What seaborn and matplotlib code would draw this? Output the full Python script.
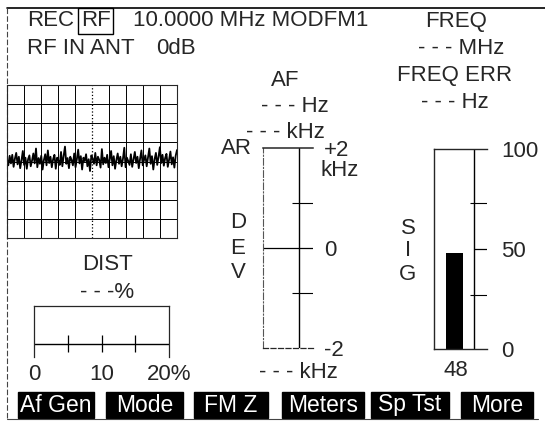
import numpy as np
import pandas as pd
import matplotlib.pyplot as plt
from matplotlib.patches import Rectangle
import seaborn as sns

sns.set_style('white')
plt.rcParams['font.family'] = ['Liberation Sans', 'DejaVu Sans']
plt.rcParams['font.size'] = 16

# scope trace, in divisions from the centre line
trace = [0.10, -0.20, 0.30, -0.10, 0.35, -0.28, 0.15, 0.45, -0.15, 0.25,
         -0.35, 0.05, 0.55, -0.18, 0.20, -0.38, 0.12, 0.32, -0.25, 0.05,
         0.42, -0.10, 0.68, -0.30, 0.18, -0.12, 0.30, -0.42, 0.08, 0.38,
         -0.20, 0.58, -0.08, 0.25, -0.30, 0.12, 0.35, -0.38, 0.20, 0.05,
         -0.18, 0.50, -0.25, 0.30, 0.78, -0.12, 0.18, -0.35, 0.25, 0.08,
         -0.20, 0.42, -0.30, 0.12, 0.62, -0.10, 0.28, -0.42, 0.20, 0.02,
         0.38, -0.25, 0.12, -0.50, 0.32, 0.15, -0.12, 0.45, -0.20, 0.25,
         0.08, -0.32, 0.65, -0.15, 0.20, -0.08, 0.35, -0.30, 0.12, 0.55,
         -0.20, 0.28, -0.38, 0.08, 0.42, -0.12, 0.25, -0.25, 0.15, 0.72,
         -0.30, 0.20, 0.02, -0.18, 0.38, -0.28, 0.12, 0.50, -0.08, 0.25,
         -0.35, 0.15, 0.58, -0.20, 0.08, 0.32, -0.25, 0.20, 0.68, -0.12,
         0.28, -0.42, 0.12, 0.45, -0.18, 0.25, 0.75, -0.08, 0.35, -0.22,
         0.18, 0.40, -0.28, 0.10, 0.52, -0.15, 0.22, -0.32, 0.30, 0.60]

dist_ticks = [0, 10, 20]
dist_labels = ['0', '10', '20%']
dist_minor = [5, 10, 15]

dev_ticks = [-2, 0, 2]
dev_labels = ['-2', '0', '+2']
dev_minor = [-0.9, 0.9]

sig_value = 48
sig_ticks = [0, 50, 100]
sig_minor = [27, 73]

softkeys = ['Af Gen', 'Mode', 'FM Z', 'Meters', 'Sp Tst', 'More']

W, H = 545, 421
fig = plt.figure(figsize=(W / 100, H / 100), dpi=100)


def px_axes(x0, y0, x1, y1):
    a = fig.add_axes([x0 / W, 1 - y1 / H, (x1 - x0) / W, (y1 - y0) / H])
    a.patch.set_alpha(0)
    return a


bg = fig.add_axes([0, 0, 1, 1])
bg.set_xlim(0, W)
bg.set_ylim(H, 0)
bg.axis('off')

# outer frame
bg.plot([7, 545], [8, 8], color='black', lw=1.2)
bg.plot([7, 7], [8, 419], color='#444444', lw=0.8, ls=(0, (5, 2)))
bg.plot([7, 538], [419, 419], color='#444444', lw=0.8)

# header
bg.text(27, 21, 'REC', va='center')
bg.text(81, 21, 'RF', va='center',
        bbox=dict(boxstyle='square,pad=0.12', fc='none', ec='black', lw=1))
bg.text(133, 21, '10.0000 MHz MODFM1', va='center')
bg.text(27, 48, 'RF IN ANT', va='center')
bg.text(156, 48, '0dB', va='center')
bg.text(456, 21, 'FREQ', ha='center', va='center')
bg.text(461, 48, '- - - MHz', ha='center', va='center')
bg.text(455, 76, 'FREQ ERR', ha='center', va='center')
bg.text(455, 103, '- - - Hz', ha='center', va='center')

# AF / DEV texts
bg.text(285, 80, 'AF', ha='center', va='center')
bg.text(295, 107, '- - - Hz', ha='center', va='center')
bg.text(285, 132, '- - - kHz', ha='center', va='center')
bg.text(236, 148, 'AR', ha='center', va='center')
bg.text(340, 170, 'kHz', ha='center', va='center')
for ch, yy in zip('DEV', [223, 249, 273]):
    bg.text(238, yy, ch, ha='center', va='center')
bg.text(298, 373, '- - - kHz', ha='center', va='center')

# SIG texts
for ch, yy in zip('SIG', [229, 251, 275]):
    bg.text(408, yy, ch, ha='center', va='center')
bg.text(456, 370, str(sig_value), ha='center', va='center')

# DIST texts
bg.text(107, 265, 'DIST', ha='center', va='center')
bg.text(107, 292, '- - -%', ha='center', va='center')

# scope
sc = px_axes(7, 85, 177, 238)
df = pd.DataFrame({'t': np.linspace(0, 10, len(trace)), 'v': trace})
sns.lineplot(data=df, x='t', y='v', color='black', lw=1.3, ax=sc)
sc.set_xlim(0, 10)
sc.set_ylim(-4, 4)
for i in range(1, 10):
    sc.axvline(i, color='black', lw=0.9 if i == 5 else 0.7,
               ls=':' if i == 5 else '-', zorder=1)
for j in range(-3, 4):
    sc.axhline(j, color='black', lw=0.7, zorder=1)
sc.set_xticks([])
sc.set_yticks([])
sc.set_xlabel('')
sc.set_ylabel('')
for s in sc.spines.values():
    s.set_linewidth(0.8)

# DIST bar (pixel-like vertical scale, 0 at bottom)
ds = px_axes(34, 306, 169, 357)
ds.set_xlim(0, 20)
ds.set_ylim(0, 51)
ds.axhline(13, color='black', lw=1)
ds.vlines(dist_minor, 5, 22, color='black', lw=0.9)
ds.spines['bottom'].set_visible(False)
for s in ['left', 'right', 'top']:
    ds.spines[s].set_linewidth(0.9)
ds.set_yticks([])
ds.set_xticks(dist_ticks, dist_labels)
ds.tick_params(axis='x', length=0, pad=5)

# DEV meter
dv = px_axes(263, 148, 313, 348)
dv.set_xlim(0, 1)
dv.set_ylim(-2, 2)
dv.axvline(0.72, color='black', lw=1)
dv.axhline(0, color='black', lw=0.9)
dv.hlines(dev_minor, 0.58, 1, color='black', lw=0.8)
dv.spines['right'].set_visible(False)
dv.spines['top'].set_linewidth(1.1)
dv.spines['left'].set_linestyle((0, (6, 2, 1, 2)))
dv.spines['left'].set_linewidth(0.8)
dv.spines['left'].set_color('#555555')
dv.spines['bottom'].set_linestyle((0, (4, 2)))
dv.spines['bottom'].set_linewidth(0.9)
dv.set_xticks([])
dv.yaxis.tick_right()
dv.set_yticks(dev_ticks, dev_labels)
dv.tick_params(axis='y', length=0, pad=8)

# SIG meter
sg = px_axes(434, 149, 487, 349)
sns.barplot(x=['SIG'], y=[sig_value], color='black', width=0.32,
            linewidth=0, saturation=1, ax=sg)
sg.set_xlim(-0.387, 0.613)
sg.set_ylim(0, 100)
sg.axvline(0.368, color='black', lw=1)
sg.hlines(sig_minor, 0.292, 0.613, color='black', lw=0.8)
sg.hlines([50], 0.368, 0.613, color='black', lw=0.9)
sg.spines['right'].set_visible(False)
for s in ['left', 'top', 'bottom']:
    sg.spines[s].set_linewidth(1)
sg.set_xticks([])
sg.set_xlabel('')
sg.set_ylabel('')
sg.yaxis.tick_right()
sg.set_yticks(sig_ticks, [str(v) for v in sig_ticks])
sg.tick_params(axis='y', length=0, pad=10)

# softkeys
key_x = [(18, 94), (106, 183), (194, 268), (282, 364), (371, 449), (461, 533)]
for label, (x0, x1) in zip(softkeys, key_x):
    bg.add_patch(Rectangle((x0, 392), x1 - x0, 26, color='black'))
    bg.text((x0 + x1) / 2, 405, label, color='white', ha='center', va='center',
            fontsize=16.5)

fig.savefig('out.png', dpi=100)
